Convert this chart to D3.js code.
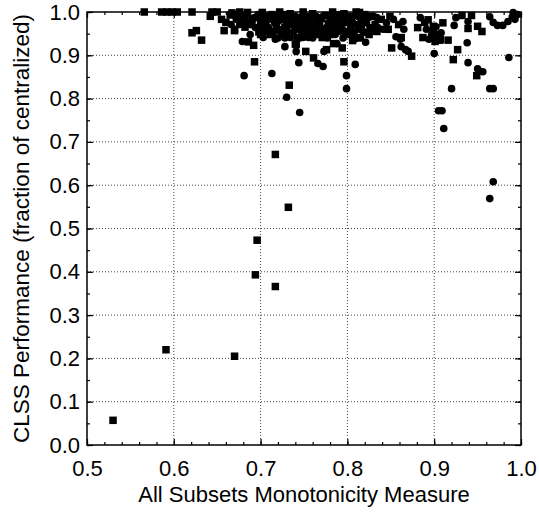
<!DOCTYPE html>
<html>
<head>
<meta charset="utf-8">
<script src="https://cdn.jsdelivr.net/npm/d3@7"></script>
<style>
  body { margin: 0; background: #fff; }
  svg text { font-family: "Liberation Sans", Arial, sans-serif; fill: #000; }
</style>
</head>
<body>
<div id="chart"></div>
<script>
// square markers: [monotonicity, performance]
const squarePts = [
  [0.530,0.057],[0.591,0.220],[0.670,0.205],[0.696,0.473],[0.694,0.393],[0.717,0.366],
  [0.717,0.671],[0.732,0.549],[0.733,0.831],[0.693,0.885],
  [0.566,1.0],[0.586,1.0],[0.592,1.0],[0.598,1.0],[0.604,1.0],[0.621,1.0],[0.642,0.990],
  [0.644,1.0],[0.650,1.0],[0.655,0.983],[0.660,0.976],[0.658,0.957],[0.670,0.957],
  [0.621,0.952],[0.626,0.957],[0.632,0.935],[0.667,0.998],[0.665,0.993],[0.676,1.0],
  [0.686,0.931],[0.692,0.923],[0.698,0.954],[0.714,0.953],[0.740,0.926],[0.752,0.909],
  [0.761,0.894],[0.784,0.927],[0.794,0.917],[0.796,0.885],[0.851,0.917],[0.874,0.898],
  [0.906,0.935],[0.916,0.935],[0.927,0.913],[0.922,0.890],[0.949,0.853],[0.955,0.955],
  [0.950,0.967],[0.943,0.992],[0.932,0.992],[0.910,0.975],[0.899,0.952],[0.893,0.982],
  [0.899,0.967],[0.907,0.936],[0.939,0.962],
  [0.674,0.994],[0.680,0.983],[0.685,0.999],[0.690,0.971],[0.695,0.987],[0.699,0.960],
  [0.702,0.999],[0.706,0.978],[0.711,0.948],[0.713,0.994],[0.718,0.966],[0.722,1.0],
  [0.726,0.983],[0.730,0.955],[0.734,0.996],[0.737,0.971],[0.742,0.941],[0.745,0.987],
  [0.749,1.0],[0.752,0.964],[0.757,0.978],[0.760,0.996],[0.764,0.948],[0.768,0.971],
  [0.771,0.941],[0.775,0.992],[0.780,0.960],[0.783,1.0],[0.788,0.978],[0.791,0.971],
  [0.796,0.996],[0.801,0.955],[0.805,0.983],[0.810,1.0],[0.814,0.999],[0.820,0.994],
  [0.832,0.971],[0.839,0.983],[0.847,0.960],[0.859,0.971],[0.862,0.941],[0.881,0.964],
  [0.889,0.976],[0.887,0.941],[0.901,0.932],[0.903,0.948],[0.806,0.934],[0.811,0.941],
  [0.776,0.913],[0.741,0.925],[0.670,0.960],[0.826,0.990],[0.849,0.990],[0.834,0.955],
  [0.690,0.985],[0.712,0.985],[0.735,0.985],[0.752,0.985],[0.770,0.985],[0.792,0.985],
  [0.818,0.985],
  [0.682,0.965],[0.706,0.965],[0.728,0.965],[0.744,0.965],[0.762,0.965],[0.784,0.965],
  [0.804,0.965],[0.816,0.965],
  [0.700,0.948],[0.724,0.948],[0.752,0.948],[0.780,0.948],[0.800,0.948],[0.825,0.948]
];

// circle markers: [monotonicity, performance]
const circlePts = [
  [0.676,0.971],[0.682,0.987],[0.688,0.948],[0.694,0.964],[0.697,0.994],[0.703,0.941],
  [0.709,0.964],[0.713,0.983],[0.717,0.937],[0.720,0.978],[0.725,0.960],[0.728,0.994],
  [0.730,0.971],[0.734,0.941],[0.738,0.983],[0.743,0.960],[0.747,0.955],[0.749,0.941],
  [0.755,0.941],[0.758,0.971],[0.760,0.960],[0.766,0.987],[0.771,0.960],[0.776,0.964],
  [0.781,0.983],[0.786,0.948],[0.790,0.994],[0.794,0.960],[0.800,0.976],[0.804,0.948],
  [0.810,0.939],[0.811,0.971],[0.814,0.960],[0.818,0.983],[0.821,0.930],[0.820,0.953],
  [0.824,0.987],[0.826,0.964],[0.834,0.987],[0.835,0.964],[0.841,0.960],[0.853,0.983],
  [0.856,0.943],[0.864,0.978],[0.865,0.960],[0.861,0.937],[0.862,0.920],[0.867,0.913],
  [0.870,0.909],[0.884,0.987],[0.891,0.960],[0.894,0.937],[0.902,0.966],[0.897,0.948],
  [0.900,0.904],[0.908,0.952],[0.679,0.932],[0.728,0.920],[0.741,0.909],[0.744,0.883],
  [0.766,0.881],[0.772,0.874],[0.773,0.909],[0.788,0.927],[0.809,0.879],[0.799,0.853],
  [0.799,0.823],[0.745,0.768],[0.730,0.803],[0.713,0.858],[0.681,0.853],[0.938,0.929],
  [0.939,0.883],[0.950,0.869],[0.956,0.862],[0.920,0.823],[0.964,0.823],[0.968,0.823],
  [0.986,0.895],[0.905,0.772],[0.909,0.772],[0.911,0.731],[0.968,0.608],[0.964,0.569],
  [0.923,0.969],[0.925,0.987],[0.939,0.978],[0.964,0.989],[0.968,0.976],[0.973,0.969],
  [0.979,0.969],[0.985,0.978],[0.990,0.989],[0.993,0.983],[0.996,0.994],[0.991,0.999],
  [0.666,0.971],[0.672,0.983],
  [0.700,0.990],[0.708,0.990],[0.716,0.990],[0.724,0.990],[0.732,0.990],[0.740,0.990],
  [0.748,0.990],[0.756,0.990],[0.764,0.990],[0.772,0.990],[0.780,0.990],[0.788,0.990],
  [0.796,0.990],[0.804,0.990],[0.812,0.990],[0.830,0.990],
  [0.684,0.975],[0.700,0.975],[0.716,0.975],[0.733,0.975],[0.745,0.975],[0.752,0.975],
  [0.763,0.975],[0.778,0.975],[0.785,0.975],[0.797,0.975],[0.806,0.975],[0.815,0.975],
  [0.822,0.975],[0.845,0.975],
  [0.705,0.955],[0.715,0.955],[0.723,0.955],[0.738,0.955],[0.758,0.955],[0.768,0.955],
  [0.775,0.955],[0.790,0.955],[0.796,0.955],[0.808,0.955],[0.818,0.955],[0.828,0.955],
  [0.720,0.940],[0.728,0.940],[0.745,0.940],[0.760,0.940],[0.777,0.940],[0.795,0.940],
  [0.815,0.940]
];

const xTicks = [0.5, 0.6, 0.7, 0.8, 0.9, 1.0];
const yTicks = [0.0, 0.1, 0.2, 0.3, 0.4, 0.5, 0.6, 0.7, 0.8, 0.9, 1.0];
const xMinor = d3.range(0.5, 1.0001, 0.02);
const yMinor = d3.range(0, 1.0001, 0.05);

const margin = { top: 12, right: 18, bottom: 67, left: 87 },
  width = 539 - margin.left - margin.right,
  height = 512 - margin.top - margin.bottom;

const svg = d3.select("#chart")
  .append("svg")
  .attr("width", 539)
  .attr("height", 512)
  .append("g")
  .attr("transform", `translate(${margin.left},${margin.top})`);

const x = d3.scaleLinear().domain([0.5, 1.0]).range([0, width]);
const y = d3.scaleLinear().domain([0, 1.0]).range([height, 0]);

// dotted grid
svg.append("g")
  .selectAll("line")
  .data(xTicks.slice(1, -1))
  .enter().append("line")
  .attr("x1", d => x(d)).attr("x2", d => x(d))
  .attr("y1", 0).attr("y2", height)
  .attr("stroke", "#444")
  .attr("stroke-width", 1)
  .attr("stroke-dasharray", "1,2");

svg.append("g")
  .selectAll("line")
  .data(yTicks.slice(1, -1))
  .enter().append("line")
  .attr("x1", 0).attr("x2", width)
  .attr("y1", d => y(d)).attr("y2", d => y(d))
  .attr("stroke", "#444")
  .attr("stroke-width", 1)
  .attr("stroke-dasharray", "1,2");

// axes with inward ticks
const fmt = d3.format(".1f");

function styleAxis(g) {
  g.select(".domain").remove();
  g.selectAll("line").attr("stroke", "#000").attr("stroke-width", 1.2);
}

svg.append("g")
  .attr("transform", `translate(0,${height})`)
  .call(d3.axisBottom(x).tickValues(xTicks).tickSize(-6).tickPadding(15).tickFormat(fmt))
  .call(styleAxis)
  .selectAll("text").style("font-size", "22px");

svg.append("g")
  .attr("transform", `translate(0,${height})`)
  .call(d3.axisBottom(x).tickValues(xMinor).tickSize(-3).tickFormat(""))
  .call(styleAxis);

svg.append("g")
  .call(d3.axisTop(x).tickValues(xTicks).tickSize(-6).tickFormat(""))
  .call(styleAxis);

svg.append("g")
  .call(d3.axisTop(x).tickValues(xMinor).tickSize(-3).tickFormat(""))
  .call(styleAxis);

svg.append("g")
  .call(d3.axisLeft(y).tickValues(yTicks).tickSize(-6).tickPadding(7).tickFormat(fmt))
  .call(styleAxis)
  .selectAll("text").style("font-size", "22px");

svg.append("g")
  .call(d3.axisLeft(y).tickValues(yMinor).tickSize(-3).tickFormat(""))
  .call(styleAxis);

svg.append("g")
  .attr("transform", `translate(${width},0)`)
  .call(d3.axisRight(y).tickValues(yTicks).tickSize(-6).tickFormat(""))
  .call(styleAxis);

svg.append("g")
  .attr("transform", `translate(${width},0)`)
  .call(d3.axisRight(y).tickValues(yMinor).tickSize(-3).tickFormat(""))
  .call(styleAxis);

// frame
svg.append("rect")
  .attr("width", width)
  .attr("height", height)
  .attr("fill", "none")
  .attr("stroke", "#000")
  .attr("stroke-width", 1.5);

// markers
const sq = 7.5;
svg.append("g")
  .selectAll("rect")
  .data(squarePts)
  .enter().append("rect")
  .attr("x", d => x(d[0]) - sq / 2)
  .attr("y", d => y(d[1]) - sq / 2)
  .attr("width", sq)
  .attr("height", sq)
  .attr("fill", "#000");

svg.append("g")
  .selectAll("circle")
  .data(circlePts)
  .enter().append("circle")
  .attr("cx", d => x(d[0]))
  .attr("cy", d => y(d[1]))
  .attr("r", 3.8)
  .attr("fill", "#000");

// axis titles
svg.append("text")
  .attr("x", width / 2)
  .attr("y", height + 57)
  .style("text-anchor", "middle")
  .style("font-size", "22px")
  .text("All Subsets Monotonicity Measure");

svg.append("text")
  .attr("transform", "rotate(-90)")
  .attr("x", -height / 2)
  .attr("y", -58)
  .style("text-anchor", "middle")
  .style("font-size", "22.5px")
  .text("CLSS Performance (fraction of centralized)");
</script>
</body>
</html>
